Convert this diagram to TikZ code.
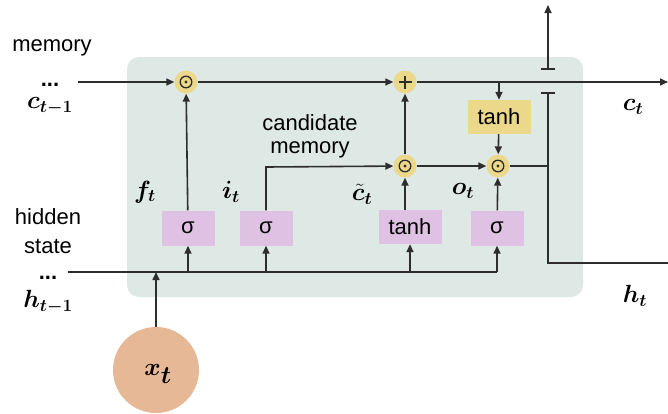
\documentclass[tikz,border=0pt]{standalone}
\usepackage{fontspec}
\usepackage{amsmath,bm}
\setmainfont{Liberation Sans}
\usetikzlibrary{arrows.meta}
\definecolor{bgc}{RGB}{222,232,229}
\definecolor{gatec}{RGB}{236,216,138}
\definecolor{purc}{RGB}{223,193,228}
\definecolor{inc}{RGB}{230,184,150}
\definecolor{linec}{RGB}{45,45,45}
\tikzset{
  conn/.style={draw=linec,line width=1.6pt},
  arr/.style={conn,-{Triangle[length=8pt,width=7pt]}},
  gate/.style={circle,fill=gatec,minimum size=23pt,inner sep=0pt},
  dotgate/.style={gate,path picture={\draw[line width=1.3pt,linec] (path picture bounding box.center) circle (5.8pt);
     \fill[linec] (path picture bounding box.center) circle (1.7pt);}},
  plusgate/.style={gate,path picture={\draw[line width=1.3pt,linec] ([xshift=-6.5pt]path picture bounding box.center) -- ([xshift=6.5pt]path picture bounding box.center);
     \draw[line width=1.3pt,linec] ([yshift=-6.5pt]path picture bounding box.center) -- ([yshift=6.5pt]path picture bounding box.center);}},
  sbox/.style={fill=purc,minimum width=53pt,minimum height=35pt,inner sep=0pt,font=\fontsize{22}{24}\selectfont},
  tbox/.style={sbox,minimum width=63pt,minimum height=34pt},
  txt/.style={font=\fontsize{22}{24}\selectfont,inner sep=0pt},
  dots/.style={font=\bfseries\fontsize{22}{24}\selectfont,inner sep=0pt},
  mlab/.style={font=\fontsize{27}{29}\selectfont,inner sep=0pt},
}
\begin{document}
\begin{tikzpicture}[x=1pt,y=-1pt]
\useasboundingbox (0,0) rectangle (668,413);
\fill[bgc,rounded corners=12pt] (127,57) rectangle (583,297);
% gates
\node[dotgate] (o1) at (186,82) {};
\node[plusgate] (pl) at (405,82) {};
\node[dotgate] (o2) at (405,166) {};
\node[dotgate] (o3) at (498,166) {};
\node[tbox,fill=gatec] (yt) at (499,117) {tanh};
\node[sbox] (fs) at (188,228) {σ};
\node[sbox] (is) at (266,228) {σ};
\node[tbox] (ct) at (410,227) {tanh};
\node[sbox] (os) at (497,228) {σ};
\node[circle,fill=inc,minimum size=86pt,inner sep=0pt] (xt) at (156,370) {};
\node[font=\fontsize{34}{36}\selectfont,inner sep=0pt] (xl) at (158,374) {$\bm{x_t}$};
% coordinates
\coordinate (cin) at (78,82);
\coordinate (cout) at (668,82);
\coordinate (br) at (499,82);
\coordinate (hin) at (68,272);
\coordinate (hx) at (156,272);
\coordinate (hf) at (188,272);
\coordinate (hi) at (266,272);
\coordinate (hc) at (410,272);
\coordinate (ho) at (497,272);
\coordinate (ib) at (266,167);
\coordinate (j1) at (548,166);
\coordinate (lb) at (548,93);
\coordinate (ub) at (548,69);
\coordinate (top) at (548,5);
\coordinate (hc1) at (548,263);
\coordinate (hend) at (668,263);
% memory path
\draw[arr] (cin) -- (o1);
\draw[arr] (o1) -- (pl);
\draw[arr] (pl) -- (cout);
\draw[arr] (br) -- (yt);
\draw[arr] (yt) -- (o3);
% gate inputs
\draw[arr] (fs) -- (o1);
\draw[arr] (is.north) -- (ib) -- (o2);
\draw[arr] (ct.north -| o2) -- (o2);
\draw[arr] (o2) -- (pl);
\draw[arr] (o2) -- (o3);
\draw[arr] (os) -- (o3);
% hidden line
\draw[conn] (hin) -- (ho);
\draw[arr] (hf) -- (fs);
\draw[arr] (hi) -- (is);
\draw[arr] (hc) -- (ct);
\draw[arr] (ho) -- (os);
\draw[arr] (xt) -- (hx);
% output
\draw[conn] (o3) -- (j1);
\draw[conn] (lb) -- (hc1) -- (hend);
\draw[conn] ([xshift=-7pt]lb) -- ([xshift=7pt]lb);
\draw[conn] ([xshift=-7pt]ub) -- ([xshift=7pt]ub);
\draw[arr] (ub) -- (top);
% labels
\node[txt] (lm) at (52,48) {memory};
\node[dots] (ld1) at (50,85) {...};
\node[mlab] (lc1) at (50,106) {$\bm{c_{t-1}}$};
\node[txt] (lh1) at (48,217) {hidden};
\node[txt] (lh2) at (48,246) {state};
\node[dots] (ld2) at (48,278) {...};
\node[mlab] (lh) at (48,302) {$\bm{h_{t-1}}$};
\node[mlab] (lf) at (145,192) {$\bm{f_t}$};
\node[mlab] (li) at (231,192) {$\bm{i_t}$};
\node[mlab] (lct) at (362,194) {$\bm{\tilde{c}_t}$};
\node[mlab] (lo) at (463,191) {$\bm{o_t}$};
\node[mlab] (lc) at (633,107) {$\bm{c_t}$};
\node[mlab] (lht) at (635,296) {$\bm{h_t}$};
\node[txt] (lcand) at (310,123) {candidate};
\node[txt] (lmem) at (310,150) {memory};
\end{tikzpicture}
\end{document}
